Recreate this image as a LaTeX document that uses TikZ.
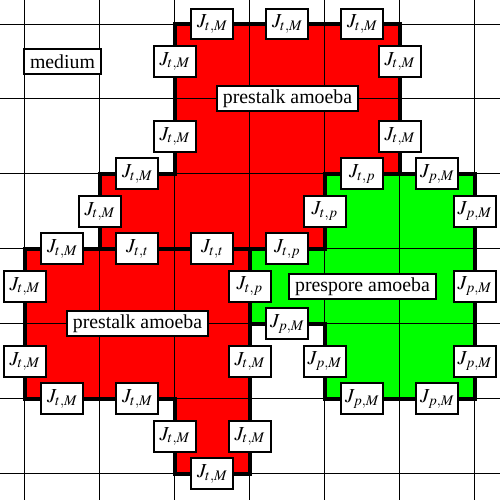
\documentclass[tikz,border=0pt]{standalone}
\usepackage{mathptmx}
\usepackage[no-math]{fontspec}
\setmainfont{Liberation Serif}
\newfontfamily\cellfont{Liberation Serif}

\definecolor{stalkred}{RGB}{255,0,0}
\definecolor{sporegreen}{RGB}{0,255,0}

\tikzset{
	jbox/.style={draw, line width=1pt, fill=white, inner sep=0pt, minimum width=21pt, minimum height=15.5pt},
	tbox/.style={draw, line width=1pt, fill=white, inner xsep=3pt, inner ysep=0pt, minimum height=12.5pt},
	wall/.style={line width=2.2pt, line join=miter}
}

\begin{document}
\begin{tikzpicture}[x=37.5pt, y=-37.5pt, font=\cellfont\fontsize{9.9}{11.8}\selectfont]
	\useasboundingbox (-0.333,-0.32) rectangle (6.333,6.347);
	
	% cells of the three amoebae
	\fill[stalkred] (2,0) -- (5,0) -- (5,2) -- (4,2) -- (4,3) -- (1,3) -- (1,2) -- (2,2) -- cycle;
	\fill[stalkred] (0,3) -- (3,3) -- (3,6) -- (2,6) -- (2,5) -- (0,5) -- cycle;
	\fill[sporegreen] (4,2) -- (6,2) -- (6,5) -- (4,5) -- (4,4) -- (3,4) -- (3,3) -- (4,3) -- cycle;
	
	% lattice
	\foreach \k in {0,...,6} {
		\draw[line width=0.5pt] (\k,-0.32) -- (\k,6.347);
		\draw[line width=0.5pt] (-0.333,\k) -- (6.333,\k);
	}
	
	% membranes
	\draw[wall] (2,0) -- (5,0) -- (5,2) -- (4,2) -- (4,3) -- (1,3) -- (1,2) -- (2,2) -- cycle;
	\draw[wall] (0,3) -- (3,3) -- (3,6) -- (2,6) -- (2,5) -- (0,5) -- cycle;
	\draw[wall] (4,2) -- (6,2) -- (6,5) -- (4,5) -- (4,4) -- (3,4) -- (3,3) -- (4,3) -- cycle;
	
	\node[tbox] (med) at (0.5,0.5) {medium};
	\node[tbox] (stalkA) at (3.5,1) {prestalk amoeba};
	\node[tbox] (stalkB) at (1.5,4) {prestalk amoeba};
	\node[tbox] (spore) at (4.5,3.5) {prespore amoeba};
	
	% upper prestalk amoeba
	\node[jbox] (a1) at (2.5,0) {$J_{t,M}$};
	\node[jbox] (a2) at (3.5,0) {$J_{t,M}$};
	\node[jbox] (a3) at (4.5,0) {$J_{t,M}$};
	\node[jbox] (a4) at (2,0.5) {$J_{t,M}$};
	\node[jbox] (a5) at (2,1.5) {$J_{t,M}$};
	\node[jbox] (a6) at (5,0.5) {$J_{t,M}$};
	\node[jbox] (a7) at (5,1.5) {$J_{t,M}$};
	\node[jbox] (a8) at (1.5,2) {$J_{t,M}$};
	\node[jbox] (a9) at (1,2.5) {$J_{t,M}$};
	\node[jbox] (tp1) at (4.5,2) {$J_{t,p}$};
	\node[jbox] (tp2) at (4,2.5) {$J_{t,p}$};
	\node[jbox] (tp3) at (3.5,3) {$J_{t,p}$};
	\node[jbox] (tt1) at (1.5,3) {$J_{t,t}$};
	\node[jbox] (tt2) at (2.5,3) {$J_{t,t}$};
	
	% lower prestalk amoeba
	\node[jbox] (b1) at (0.5,3) {$J_{t,M}$};
	\node[jbox] (b2) at (0,3.5) {$J_{t,M}$};
	\node[jbox] (b3) at (0,4.5) {$J_{t,M}$};
	\node[jbox] (b4) at (0.5,5) {$J_{t,M}$};
	\node[jbox] (b5) at (1.5,5) {$J_{t,M}$};
	\node[jbox] (b6) at (2,5.5) {$J_{t,M}$};
	\node[jbox] (b7) at (3,5.5) {$J_{t,M}$};
	\node[jbox] (b8) at (2.5,6) {$J_{t,M}$};
	\node[jbox] (b9) at (3,4.5) {$J_{t,M}$};
	\node[jbox] (tp4) at (3,3.5) {$J_{t,p}$};
	
	% prespore amoeba
	\node[jbox] (c1) at (5.5,2) {$J_{p,M}$};
	\node[jbox] (c2) at (6,2.5) {$J_{p,M}$};
	\node[jbox] (c3) at (6,3.5) {$J_{p,M}$};
	\node[jbox] (c4) at (6,4.5) {$J_{p,M}$};
	\node[jbox] (c5) at (5.5,5) {$J_{p,M}$};
	\node[jbox] (c6) at (4.5,5) {$J_{p,M}$};
	\node[jbox] (c7) at (4,4.5) {$J_{p,M}$};
	\node[jbox] (c8) at (3.5,4) {$J_{p,M}$};
\end{tikzpicture}
\end{document}
